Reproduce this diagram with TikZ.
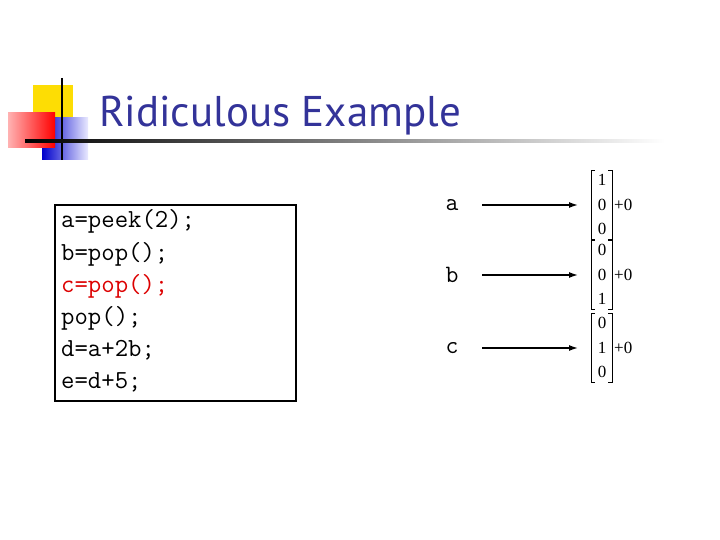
\documentclass[tikz,border=0pt]{standalone}
\usepackage{fontspec}
\setmainfont{Liberation Serif}
\newfontfamily\titlefont{PT Sans}
\usetikzlibrary{arrows.meta}
\definecolor{tblue}{RGB}{51,51,153}
\definecolor{cred}{RGB}{220,0,0}
\tikzset{
 code/.style={font=\ttfamily\fontsize{26}{28}\selectfont,anchor=base west,inner sep=0},
 lab/.style={font=\ttfamily\fontsize{25}{28}\selectfont,inner sep=0},
 num/.style={font=\fontsize{17}{18}\selectfont,inner sep=0},
 arr/.style={-{Latex[length=9pt,width=6pt]},line width=1.4pt},
 brk/.style={line width=0.9pt}
}
\begin{document}
\begin{tikzpicture}[x=1pt,y=-1pt]
\useasboundingbox (0,0) rectangle (720,540);
% decoration
\fill[yellow!80!orange] (33,85) rectangle (73,122);
\shade[left color=blue!80!black, right color=blue!8] (42,118) rectangle (88,160);
\shade[left color=red!30, right color=red] (8,113) rectangle (55,148);
\draw[line width=1.5pt] (62,78) -- (62,160);
\shade[left color=black, right color=white] (25,140) rectangle (665,142.5);
\node[font=\titlefont\fontsize{43}{46}\selectfont,text=tblue,anchor=base west,inner sep=0] (title) at (99,127) {Ridiculous Example};
% code box
\node[draw,line width=2pt,minimum width=241,minimum height=196,anchor=north west] (box) at (54,204) {};
\node[code] (l1) at (61,228) {a=peek(2);};
\node[code] (l2) at (61,260) {b=pop();};
\node[code,text=cred] (l3) at (61,292) {c=pop();};
\node[code] (l4) at (61,324) {pop();};
\node[code] (l5) at (61,356) {d=a+2b;};
\node[code] (l6) at (61,388) {e=d+5;};
% vectors
\foreach \n/\y/\p/\q/\r in {a/205/1/0/0, b/275/0/0/1, c/348/0/1/0}{
 \node[lab] (\n) at (452,\y) {\n};
 \node[num] (\n1) at (602,\y-25) {\p};
 \node[num] (\n2) at (602,\y) {\q};
 \node[num] (\n3) at (602,\y+24) {\r};
 \node[num,anchor=west] (\n p) at (614,\y) {+0};
 \coordinate (\n s) at (482,\y);
 \coordinate (\n e) at (578,\y);
 \draw[arr] (\n s) -- (\n e);
 \draw[brk] (595,\y-35) -- (591,\y-35) -- (591,\y+34) -- (595,\y+34);
 \draw[brk] (608,\y-35) -- (612,\y-35) -- (612,\y+34) -- (608,\y+34);
}
\end{tikzpicture}
\end{document}
